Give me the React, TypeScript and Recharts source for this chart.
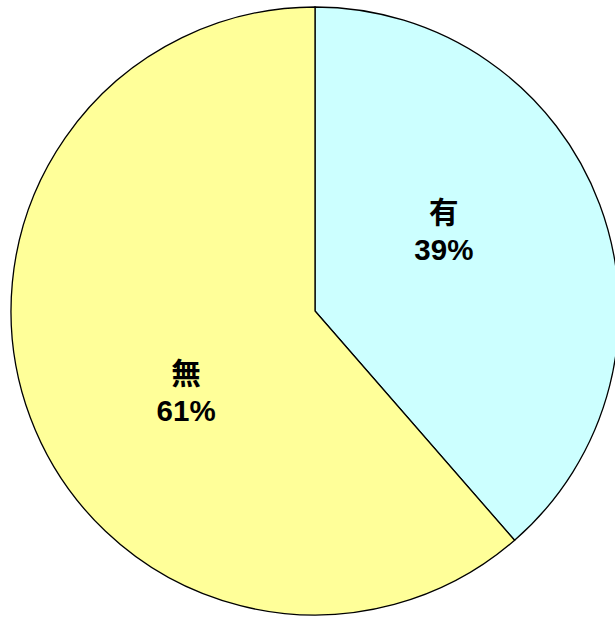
import { PieChart, Pie, Cell } from "recharts";

const categories = ["有", "無"];
// read from the slice boundary; the labels show these rounded
const shares = [38.6, 61.4];
const sliceColors = ["#CCFFFF", "#FFFF99"];

const data = categories.map((name, i) => ({ name, value: shares[i] }));

const RADIAN = Math.PI / 180;

function renderLabel(props: any) {
  const { cx, cy, midAngle, index, value } = props;
  // Excel nudges its inside labels a little towards the horizontal
  const angle = (midAngle + 11.5) * RADIAN;
  const r = 152;
  const x = cx + r * Math.cos(angle);
  const y = cy - r * Math.sin(angle);
  return (
    <text
      x={x}
      y={y}
      textAnchor="middle"
      fill="#000"
      fontWeight="bold"
      fontSize={29.5}
      fontFamily="'Liberation Sans', Arial, 'Noto Sans CJK JP', sans-serif"
    >
      <tspan x={x} y={y - 18} dominantBaseline="central">
        {categories[index]}
      </tspan>
      <tspan x={x} y={y + 19} dominantBaseline="central">
        {Math.round(value)}%
      </tspan>
    </text>
  );
}

export default function App() {
  return (
    <div style={{ position: "absolute", left: 0, top: 0, width: 615, height: 617, background: "#fff" }}>
      <PieChart width={615} height={617} margin={{ top: 0, right: 0, bottom: 0, left: 0 }}>
        <Pie
          data={data}
          dataKey="value"
          cx={315}
          cy={311}
          outerRadius={304}
          startAngle={90}
          endAngle={-270}
          stroke="#000"
          strokeWidth={1.3}
          label={renderLabel}
          labelLine={false}
          isAnimationActive={false}
        >
          {data.map((d, i) => (
            <Cell key={d.name} fill={sliceColors[i]} />
          ))}
        </Pie>
      </PieChart>
    </div>
  );
}
